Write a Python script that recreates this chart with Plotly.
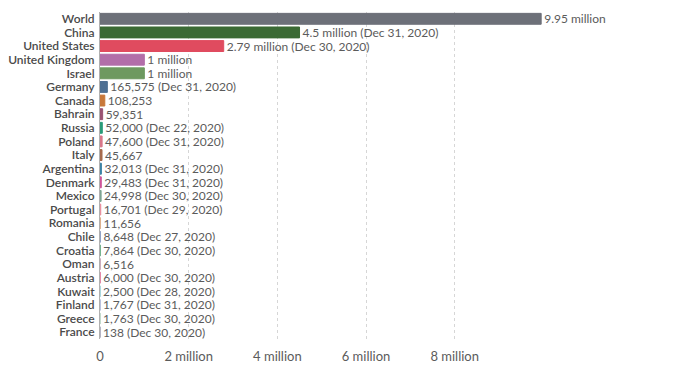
import plotly.graph_objects as go

countries = ["World", "China", "United States", "United Kingdom", "Israel", "Germany",
             "Canada", "Bahrain", "Russia", "Poland", "Italy", "Argentina", "Denmark",
             "Mexico", "Portugal", "Romania", "Chile", "Croatia", "Oman", "Austria",
             "Kuwait", "Finland", "Greece", "France"]
values = [9950000, 4500000, 2790000, 1000000, 1000000, 165575, 108253, 59351, 52000,
          47600, 45667, 32013, 29483, 24998, 16701, 11656, 8648, 7864, 6516, 6000,
          2500, 1767, 1763, 138]
labels = ["9.95 million", "4.5 million (Dec 31, 2020)", "2.79 million (Dec 30, 2020)",
          "1 million", "1 million", "165,575 (Dec 31, 2020)", "108,253", "59,351",
          "52,000 (Dec 22, 2020)", "47,600 (Dec 31, 2020)", "45,667",
          "32,013 (Dec 31, 2020)", "29,483 (Dec 31, 2020)", "24,998 (Dec 30, 2020)",
          "16,701 (Dec 29, 2020)", "11,656", "8,648 (Dec 27, 2020)", "7,864 (Dec 30, 2020)",
          "6,516", "6,000 (Dec 30, 2020)", "2,500 (Dec 28, 2020)", "1,767 (Dec 31, 2020)",
          "1,763 (Dec 30, 2020)", "138 (Dec 30, 2020)"]
colors = ["#6d7079", "#3b6a34", "#e04b5f", "#b26ea9", "#6e9960", "#4f7093", "#c8783a",
          "#9a5373", "#2a9b78", "#d9788a", "#a66a4c", "#3d83a5", "#cf5699", "#7ea594",
          "#e88e9c", "#dcb08d", "#8c9fc4", "#6eb08b", "#c6a7b8", "#e07fa0", "#9ad0d7",
          "#a9b4d8", "#b5d0c0", "#9c9cb0"]
tick_vals = [0, 2000000, 4000000, 6000000, 8000000]
tick_text = ["0", "2 million", "4 million", "6 million", "8 million"]

fig = go.Figure(go.Bar(
    x=values, y=countries, orientation="h",
    marker=dict(color=colors, line=dict(color=colors, width=1)),
    text=labels, textposition="outside", cliponaxis=False, constraintext="none",
    textfont=dict(family="Lato", size=12, color="#5b5b5b"),
    hoverinfo="skip",
))

fig.update_layout(
    width=688, height=367,
    margin=dict(l=92, r=36, t=4, b=36),
    paper_bgcolor="white", plot_bgcolor="white",
    bargap=0.2,
    showlegend=False,
    uniformtext=dict(minsize=12, mode="show"),
    font=dict(family="Lato", size=12, color="#444"),
)
fig.update_yaxes(autorange="reversed", showgrid=False, ticks="", ticklabelstandoff=2,
                 tickmode="array", tickvals=countries, ticktext=countries,
                 automargin=False,
                 showline=True, linecolor="#b0b0b0", linewidth=1,
                 tickfont=dict(family="Lato", size=12, color="#4a4a4a", weight=600))
fig.update_xaxes(range=[0, 12630000], tickvals=tick_vals, ticktext=tick_text,
                 automargin=False, ticklabelstandoff=8,
                 showgrid=True, gridcolor="#d6d6d6", griddash="3px,3px", gridwidth=1,
                 zeroline=False, ticks="",
                 tickfont=dict(family="Lato", size=13, color="#5b5b5b"))

fig.write_html("out.html")
